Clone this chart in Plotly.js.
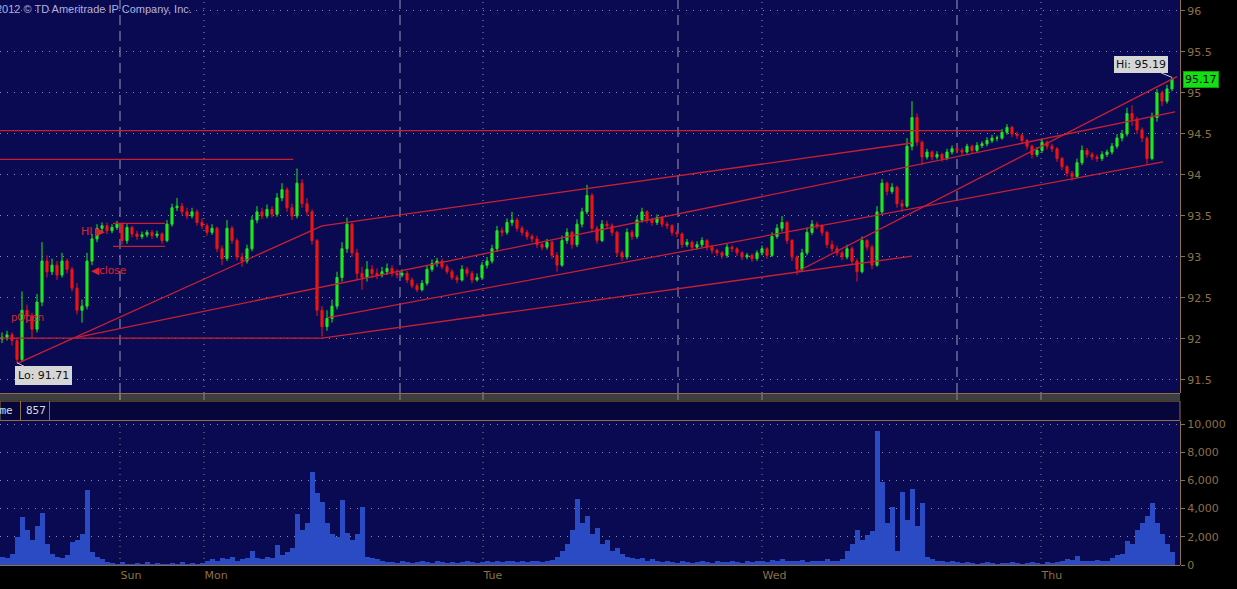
<!DOCTYPE html>
<html><head><meta charset="utf-8">
<script src="https://cdn.plot.ly/plotly-3.0.1.min.js"></script>
<style>html,body{margin:0;padding:0;background:#000;}#chart{width:1237px;height:589px;}</style>
</head><body><div id="chart"></div>
<script>
// ---- price bars ----
const openP = [92.00,92.02,92.05,91.98,91.75,92.35,92.28,92.12,92.45,92.95,
92.82,92.90,92.78,92.95,92.85,92.62,92.35,92.40,92.95,93.22,
93.35,93.38,93.32,93.36,93.40,93.20,93.36,93.28,93.25,93.27,
93.30,93.26,93.28,93.20,93.40,93.60,93.62,93.55,93.50,93.55,
93.42,93.38,93.30,93.35,93.10,92.98,93.35,93.20,93.00,92.95,
93.10,93.45,93.55,93.50,93.58,93.52,93.72,93.82,93.60,93.50,
93.90,93.65,93.55,93.20,92.35,92.15,92.25,92.40,92.75,93.10,
93.40,93.05,92.80,92.75,92.85,92.80,92.78,92.82,92.86,92.80,
92.78,92.80,92.72,92.65,92.60,92.68,92.85,92.92,92.95,92.88,
92.82,92.75,92.72,92.85,92.80,92.72,92.75,92.90,92.95,93.10,
93.32,93.30,93.42,93.45,93.35,93.30,93.25,93.22,93.15,93.12,
93.18,93.02,92.90,93.20,93.30,93.15,93.40,93.55,93.75,93.35,
93.20,93.40,93.38,93.30,93.05,93.00,93.30,93.25,93.45,93.55,
93.45,93.42,93.48,93.40,93.38,93.30,93.28,93.15,93.18,93.12,
93.15,93.20,93.12,93.08,93.05,93.02,93.12,93.10,93.05,93.00,
93.02,92.98,93.05,93.10,93.02,93.25,93.35,93.42,93.20,93.00,
92.85,93.05,93.30,93.40,93.38,93.30,93.15,93.10,93.05,93.00,
93.10,92.95,92.82,93.20,93.12,92.90,93.55,93.90,93.80,93.85,
93.65,93.62,94.35,94.70,94.40,94.22,94.28,94.22,94.25,94.20,
94.28,94.32,94.30,94.28,94.35,94.30,94.36,94.38,94.42,94.45,
94.45,94.52,94.58,94.50,94.48,94.42,94.35,94.25,94.30,94.40,
94.35,94.32,94.20,94.10,94.02,93.98,94.15,94.30,94.25,94.22,
94.20,94.25,94.28,94.35,94.45,94.50,94.75,94.68,94.55,94.45,
94.20,94.70,95.00,94.90,95.05];
const highP = [92.08,92.10,92.08,92.02,92.58,92.42,92.32,92.55,93.18,93.02,
92.98,92.95,93.05,92.98,92.88,92.68,92.48,93.05,93.28,93.40,
93.42,93.42,93.40,93.44,93.42,93.40,93.38,93.32,93.31,93.33,
93.33,93.32,93.30,93.45,93.65,93.72,93.66,93.60,93.60,93.58,
93.47,93.41,93.40,93.37,93.14,93.45,93.38,93.23,93.05,93.15,
93.50,93.62,93.60,93.64,93.62,93.78,93.90,93.85,93.65,94.08,
93.95,93.72,93.58,93.22,92.40,92.35,92.48,92.82,93.18,93.48,
93.42,93.10,92.88,92.95,92.90,92.86,92.88,92.92,92.90,92.85,
92.85,92.83,92.75,92.68,92.72,92.90,92.97,92.99,92.98,92.91,
92.85,92.78,92.90,92.88,92.83,92.80,92.94,93.00,93.15,93.38,
93.36,93.47,93.55,93.48,93.38,93.33,93.28,93.26,93.18,93.22,
93.20,93.06,93.26,93.35,93.32,93.46,93.60,93.88,93.78,93.38,
93.45,93.44,93.41,93.32,93.08,93.35,93.33,93.50,93.60,93.57,
93.48,93.52,93.50,93.43,93.40,93.33,93.30,93.22,93.20,93.19,
93.24,93.22,93.15,93.10,93.07,93.16,93.14,93.12,93.07,93.05,
93.04,93.08,93.14,93.12,93.30,93.40,93.50,93.44,93.22,93.02,
93.10,93.36,93.45,93.43,93.40,93.32,93.20,93.14,93.08,93.15,
93.13,92.98,93.25,93.22,93.15,93.62,93.95,93.92,93.90,93.87,
93.70,94.45,94.90,94.75,94.42,94.32,94.30,94.29,94.27,94.32,
94.36,94.35,94.33,94.38,94.37,94.40,94.41,94.46,94.49,94.48,
94.56,94.62,94.60,94.53,94.50,94.44,94.37,94.34,94.45,94.42,
94.38,94.34,94.22,94.12,94.05,94.20,94.36,94.33,94.28,94.25,
94.29,94.31,94.39,94.50,94.55,94.82,94.85,94.71,94.58,94.47,
94.76,95.05,95.03,95.10,95.19];
const lowP = [91.95,91.98,91.92,91.71,91.73,92.20,92.00,92.08,92.40,92.75,
92.78,92.72,92.75,92.80,92.58,92.30,92.20,92.36,92.90,93.18,
93.30,93.28,93.29,93.33,93.15,93.16,93.24,93.21,93.22,93.24,
93.22,93.23,93.16,93.18,93.37,93.56,93.51,93.46,93.47,93.38,
93.34,93.26,93.27,93.06,92.90,92.95,93.16,92.96,92.88,92.92,
93.07,93.41,93.46,93.47,93.48,93.49,93.68,93.55,93.45,93.47,
93.60,93.50,93.15,92.28,92.03,92.10,92.20,92.36,92.70,93.05,
93.00,92.72,92.60,92.70,92.74,92.73,92.75,92.78,92.76,92.74,
92.75,92.68,92.62,92.57,92.58,92.65,92.82,92.88,92.85,92.79,
92.72,92.68,92.70,92.76,92.68,92.70,92.72,92.86,92.92,93.06,
93.25,93.27,93.38,93.31,93.26,93.21,93.18,93.11,93.08,93.09,
92.98,92.82,92.88,93.16,93.10,93.12,93.36,93.52,93.30,93.16,
93.18,93.34,93.26,93.00,92.95,92.97,93.21,93.22,93.42,93.41,
93.38,93.39,93.36,93.34,93.26,93.24,93.11,93.12,93.08,93.09,
93.12,93.08,93.04,93.01,92.98,92.99,93.06,93.01,92.96,92.97,
92.94,92.95,93.02,92.98,93.00,93.22,93.31,93.16,92.95,92.78,
92.82,93.02,93.27,93.34,93.26,93.11,93.06,93.01,92.96,92.97,
92.90,92.70,92.80,93.08,92.85,92.88,93.52,93.75,93.77,93.60,
93.55,93.60,94.30,94.35,94.12,94.19,94.18,94.19,94.16,94.18,
94.25,94.27,94.24,94.26,94.26,94.28,94.33,94.35,94.39,94.41,
94.43,94.49,94.46,94.44,94.38,94.31,94.20,94.22,94.27,94.31,
94.28,94.16,94.06,93.98,93.93,93.96,94.12,94.21,94.18,94.16,
94.17,94.22,94.25,94.32,94.41,94.47,94.60,94.50,94.40,94.13,
94.18,94.65,94.84,94.87,95.02];
const closeP = [92.02,92.05,91.98,91.75,92.35,92.28,92.12,92.45,92.95,92.82,
92.90,92.78,92.95,92.85,92.62,92.35,92.40,92.95,93.22,93.35,
93.38,93.32,93.36,93.40,93.20,93.36,93.28,93.25,93.27,93.30,
93.26,93.28,93.20,93.40,93.60,93.62,93.55,93.50,93.55,93.42,
93.38,93.30,93.35,93.10,92.98,93.35,93.20,93.00,92.95,93.10,
93.45,93.55,93.50,93.58,93.52,93.72,93.82,93.60,93.50,93.90,
93.65,93.55,93.20,92.35,92.15,92.25,92.40,92.75,93.10,93.40,
93.05,92.80,92.75,92.85,92.80,92.78,92.82,92.86,92.80,92.78,
92.80,92.72,92.65,92.60,92.68,92.85,92.92,92.95,92.88,92.82,
92.75,92.72,92.85,92.80,92.72,92.75,92.90,92.95,93.10,93.32,
93.30,93.42,93.45,93.35,93.30,93.25,93.22,93.15,93.12,93.18,
93.02,92.90,93.20,93.30,93.15,93.40,93.55,93.75,93.35,93.20,
93.40,93.38,93.30,93.05,93.00,93.30,93.25,93.45,93.55,93.45,
93.42,93.48,93.40,93.38,93.30,93.28,93.15,93.18,93.12,93.15,
93.20,93.12,93.08,93.05,93.02,93.12,93.10,93.05,93.00,93.02,
92.98,93.05,93.10,93.02,93.25,93.35,93.42,93.20,93.00,92.85,
93.05,93.30,93.40,93.38,93.30,93.15,93.10,93.05,93.00,93.10,
92.95,92.82,93.20,93.12,92.90,93.55,93.90,93.80,93.85,93.65,
93.62,94.35,94.70,94.40,94.22,94.28,94.22,94.25,94.20,94.28,
94.32,94.30,94.28,94.35,94.30,94.36,94.38,94.42,94.45,94.45,
94.52,94.58,94.50,94.48,94.42,94.35,94.25,94.30,94.40,94.35,
94.32,94.20,94.10,94.02,93.98,94.15,94.30,94.25,94.22,94.20,
94.25,94.28,94.35,94.45,94.50,94.75,94.68,94.55,94.45,94.20,
94.70,95.00,94.90,95.05,95.17];
const volume = [600,500,800,2000,3400,2500,1800,2800,3700,1500,
800,600,500,700,1600,1800,2200,5300,900,600,
400,200,150,100,200,100,100,150,100,200,
100,150,100,100,150,100,200,100,150,100,
150,300,400,300,500,400,600,300,400,500,
1000,500,400,600,500,1400,700,900,1200,3600,
2500,3000,6600,5100,4500,3000,2200,2000,4600,2300,
1800,2200,4100,600,500,400,250,200,200,150,
250,200,150,200,300,200,150,250,200,150,
200,150,200,300,200,150,200,250,200,300,
200,250,300,200,250,200,300,250,200,300,
350,600,1000,1500,2500,4700,3000,3500,2200,2600,
1500,1800,1000,1200,800,600,500,400,500,300,
400,300,200,300,200,150,250,200,150,200,
300,200,150,250,200,200,300,200,150,250,
200,300,250,200,350,300,400,300,250,300,
350,200,300,250,300,400,300,300,400,1000,
1500,2500,1800,2100,2400,9500,5900,3000,4100,1000,
5200,3200,5400,2800,4400,600,400,300,250,200,
250,200,150,200,150,100,150,200,150,100,
150,150,200,150,100,150,200,150,100,200,
150,200,300,400,350,650,300,250,300,350,
300,300,500,700,800,1700,1500,2500,3000,3500,
4400,3000,2200,1500,900];

// ---- axis labels ----
const dayLabels = ['Sun','Mon','Tue','Wed','Thu'];
const dayTickBars = [23.6,40.4,96.2,152,207.8];
const sessionBreakBars = [23.6,79.6,135.2,191];
const volumeTicks = [0,2000,4000,6000,8000,10000];

// ---- drawn trend lines (bar index, price) ----
const trendStartBar   = [-0.4, -0.4, 22.2, 22.2, -0.4, 64,    3,     64,    15,    65.2,  159];
const trendStartPrice = [94.54,94.19,93.41,93.13,92.01, 92.01, 91.70, 93.38, 92.02, 92.26, 92.82];
const trendEndBar     = [200,  58.2, 32.6, 32.6, 64,    182,   64,    182,   234.6, 232.2, 235];
const trendEndPrice   = [94.54,94.19,93.41,93.13,92.01, 93.01, 93.38, 94.39, 94.77, 94.16, 95.20];

// ---- text ----
const copyrightText = '2012 © TD Ameritrade IP Company, Inc.';
const volumeTitle = 'Volume';
const volumeReading = '857';
const studyLabels = ['pOpen', 'HI \u25B6', '\u25C0close'];

const W = 1237, H = 589;
const X = px => px / W;
const Y = py => 1 - py / H;
const brown = '#8d7048';
const redLine = '#c82032';
const bars = closeP.map((_, i) => i);

const tx = [], ty = [];
for (let k = 0; k < trendStartBar.length; k++) {
  tx.push(trendStartBar[k], trendEndBar[k], null);
  ty.push(trendStartPrice[k], trendEndPrice[k], null);
}

let loIdx = 0, hiIdx = 0;
lowP.forEach((v, i) => { if (v < lowP[loIdx]) loIdx = i; });
highP.forEach((v, i) => { if (v > highP[hiIdx]) hiIdx = i; });
const lastClose = closeP[closeP.length - 1];

const traces = [
  {type:'candlestick', x:bars, open:openP, high:highP, low:lowP, close:closeP,
   xaxis:'x', yaxis:'y', whiskerwidth:0,
   increasing:{line:{color:'#1ee81e', width:1}, fillcolor:'#1ee81e'},
   decreasing:{line:{color:'#ee1414', width:1}, fillcolor:'#ee1414'},
   hoverinfo:'skip'},
  {type:'scatter', mode:'lines', x:tx, y:ty, xaxis:'x', yaxis:'y',
   line:{color:redLine, width:1.3}, hoverinfo:'skip', connectgaps:false},
  {type:'bar', x:bars, y:volume, xaxis:'x', yaxis:'y2',
   marker:{color:'#2a4bc4', line:{width:0}}, hoverinfo:'skip'}
];

const dotGrid = '1px,6px';
const shapes = [];
sessionBreakBars.forEach(b => shapes.push({type:'line', xref:'x', yref:'y domain', x0:b, x1:b, y0:0, y1:1, layer:'below',
  line:{color:'#9a9ab4', width:1, dash:'10px,6px'}}));
dayTickBars.slice(1).forEach(b => shapes.push({type:'line', xref:'x', yref:'y domain', x0:b, x1:b, y0:0, y1:1, layer:'below',
  line:{color:'#9090b0', width:1, dash:'1px,5px'}}));
dayTickBars.forEach(b => shapes.push({type:'line', xref:'x', yref:'y2 domain', x0:b, x1:b, y0:0, y1:1, layer:'below',
  line:{color:'#9a8070', width:1, dash:'1px,5px'}}));
// panel borders and separator
shapes.push({type:'line', xref:'paper', yref:'paper', x0:0, x1:X(1180), y0:Y(393.5), y1:Y(393.5), line:{color:brown, width:1}});
shapes.push({type:'rect', xref:'paper', yref:'paper', x0:0, x1:X(1180), y0:Y(400), y1:Y(394), fillcolor:'#3e3e3e', line:{width:0}});
shapes.push({type:'rect', xref:'paper', yref:'paper', x0:0, x1:X(1180), y0:Y(420.5), y1:Y(401), fillcolor:'#06063a', line:{color:brown, width:1}});
shapes.push({type:'line', xref:'paper', yref:'paper', x0:X(20.5), x1:X(20.5), y0:Y(420), y1:Y(401), line:{color:brown, width:1}});
shapes.push({type:'line', xref:'paper', yref:'paper', x0:X(49.5), x1:X(49.5), y0:Y(420), y1:Y(401), line:{color:brown, width:1}});
shapes.push({type:'line', xref:'paper', yref:'paper', x0:0, x1:X(1180), y0:Y(565.5), y1:Y(565.5), line:{color:brown, width:1}});
dayTickBars.concat(sessionBreakBars).forEach(b => shapes.push({type:'line', xref:'x', yref:'paper', x0:b, x1:b, y0:Y(400), y1:Y(394), line:{color:'#8a8a8a', width:1}}));

const annotations = [
  {xref:'paper', yref:'paper', x:X(-6), y:Y(1), xanchor:'left', yanchor:'top', showarrow:false,
   text:copyrightText, font:{family:'Liberation Sans', size:11, color:'#b0b0dc'}},
  {xref:'paper', yref:'paper', x:X(15), y:Y(410.5), xanchor:'right', yanchor:'middle', showarrow:false,
   text:volumeTitle, font:{family:'DejaVu Sans Mono', size:11, color:'#d8d8e0'}},
  {xref:'paper', yref:'paper', x:X(24), y:Y(410.5), xanchor:'left', yanchor:'middle', showarrow:false,
   text:volumeReading, font:{family:'DejaVu Sans Mono', size:11, color:'#d8d8e0'}},
  {xref:'paper', yref:'paper', x:X(9), y:Y(317), xanchor:'left', yanchor:'middle', showarrow:false,
   text:studyLabels[0], font:{family:'DejaVu Sans', size:10, color:'#d02a30'}},
  {xref:'paper', yref:'paper', x:X(79), y:Y(231), xanchor:'left', yanchor:'middle', showarrow:false,
   text:studyLabels[1], font:{family:'DejaVu Sans', size:11, color:'#e0222a'}},
  {xref:'paper', yref:'paper', x:X(89), y:Y(270), xanchor:'left', yanchor:'middle', showarrow:false,
   text:studyLabels[2], font:{family:'DejaVu Sans', size:10.5, color:'#e0222a'}},
  {xref:'x', yref:'y', x:loIdx, y:lowP[loIdx], ax:26, ay:13, showarrow:true, arrowhead:0, arrowwidth:1, arrowcolor:'#c8c8c8',
   text:'Lo: ' + lowP[loIdx].toFixed(2), bgcolor:'#d6d6d6', bordercolor:'#d6d6d6', borderpad:2,
   font:{family:'DejaVu Sans', size:11, color:'#111'}},
  {xref:'x', yref:'y', x:hiIdx, y:highP[hiIdx], ax:-31, ay:-13, showarrow:true, arrowhead:0, arrowwidth:1, arrowcolor:'#c8c8c8',
   text:'Hi: ' + highP[hiIdx].toFixed(2), bgcolor:'#d6d6d6', bordercolor:'#d6d6d6', borderpad:1,
   font:{family:'DejaVu Sans', size:11, color:'#111'}},
  {xref:'paper', yref:'y', x:X(1183), y:lastClose, xanchor:'left', yanchor:'middle', showarrow:false,
   text:lastClose.toFixed(2), bgcolor:'#12e012', bordercolor:'#0aa00a', borderpad:1,
   font:{family:'DejaVu Sans', size:11, color:'#000'}}
];

const tickFont = {family:'DejaVu Sans', size:11, color:brown};
const layout = {
  width:W, height:H, margin:{l:0, r:0, t:0, b:0},
  paper_bgcolor:'#000', plot_bgcolor:'#0a0a52',
  showlegend:false, hovermode:false, dragmode:false,
  boxgap:0.4, bargap:0,
  xaxis:{domain:[0, X(1180)], range:[-0.4, 235.6], anchor:'y2', showgrid:false, zeroline:false, showline:false,
    tickmode:'array', tickvals:dayTickBars, ticktext:dayLabels, ticks:'outside', ticklen:5, tickcolor:'rgba(0,0,0,0)',
    ticklabelposition:'outside right', tickfont:tickFont, rangeslider:{visible:false}, fixedrange:true},
  yaxis:{domain:[Y(393), 1], range:[91.341, 96.134], side:'right', anchor:'x', tick0:91.5, dtick:0.5,
    showgrid:true, gridcolor:'#8a8ab0', griddash:dotGrid, gridwidth:1, zeroline:false,
    ticks:'outside', ticklen:4, tickcolor:brown, showline:true, linecolor:brown, linewidth:1,
    tickfont:tickFont, fixedrange:true},
  yaxis2:{domain:[Y(565), Y(421)], range:[0, 10213], side:'right', anchor:'x',
    tickmode:'array', tickvals:volumeTicks, tickformat:',d',
    showgrid:true, gridcolor:'#8a8ab0', griddash:dotGrid, gridwidth:1, zeroline:false,
    ticks:'outside', ticklen:4, tickcolor:brown, showline:true, linecolor:brown, linewidth:1,
    tickfont:tickFont, fixedrange:true},
  shapes:shapes, annotations:annotations
};

Plotly.newPlot('chart', traces, layout, {staticPlot:true, displayModeBar:false});
</script></body></html>
